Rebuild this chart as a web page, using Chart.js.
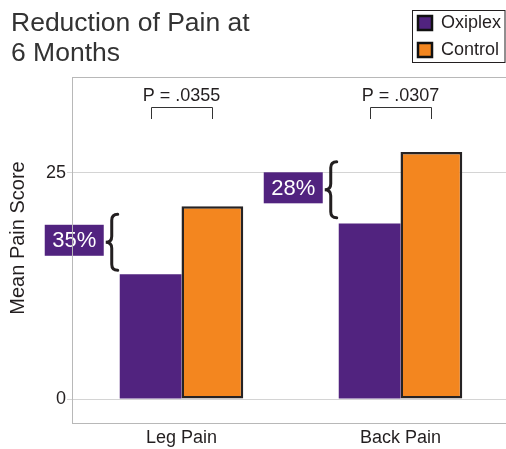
<!DOCTYPE html>
<html><head><meta charset="utf-8">
<script src="https://cdn.jsdelivr.net/npm/chart.js@4.4.1/dist/chart.umd.min.js"></script>
<style>html,body{margin:0;padding:0;background:#fff;overflow:hidden;}#wrap{width:510px;height:449px;position:relative;}</style>
</head><body><div id="wrap"><canvas id="c"></canvas></div>
<script>
const categories = ["Leg Pain", "Back Pain"];
const seriesNames = ["Oxiplex", "Control"];
const oxiplexValues = [13.8, 19.4];
const controlValues = [21.3, 27.3];
const yTickValues = [0, 25];
const pValueLabels = ["P = .0355", "P = .0307"];
const reductionLabels = ["35%", "28%"];
const titleLines = ["Reduction of Pain at", "6 Months"];
const yAxisTitle = "Mean Pain Score";

const FONT = '"Liberation Sans", Arial, Helvetica, sans-serif';
const PURPLE = '#51237f', ORANGE = '#f3861f', DARK = '#262324';
const AXIS = '#b8b8b8';

function brace(ctx, xTip, xArm, y1, y2) {
  const ym = (y1 + y2) / 2, xm = (xTip + xArm) / 2, r = 6;
  ctx.beginPath();
  ctx.moveTo(xArm, y1);
  ctx.quadraticCurveTo(xm, y1, xm, y1 + r);
  ctx.lineTo(xm, ym - r);
  ctx.quadraticCurveTo(xm, ym, xTip, ym);
  ctx.quadraticCurveTo(xm, ym, xm, ym + r);
  ctx.lineTo(xm, y2 - r);
  ctx.quadraticCurveTo(xm, y2, xArm, y2);
  ctx.stroke();
}

const annot = {
  id: 'annot',
  beforeDatasetsDraw(chart) {
    const ctx = chart.ctx;
    const ca = chart.chartArea;
    const m0 = chart.getDatasetMeta(0), m1 = chart.getDatasetMeta(1);
    ctx.save();
    categories.forEach((c, i) => {
      const b0 = m0.data[i], b1 = m1.data[i];
      const left = b0.x - b0.width / 2;
      const mid = (b0.y + b1.y) / 2;
      const bw = 59, bh = 31;
      const bx = left - 16 - bw;
      ctx.fillStyle = PURPLE;
      ctx.fillRect(bx, mid - bh / 2, bw, bh);
      ctx.fillStyle = '#fff';
      ctx.font = '22px ' + FONT;
      ctx.textAlign = 'center';
      ctx.textBaseline = 'middle';
      ctx.fillText(reductionLabels[i], bx + bw / 2, mid + 1);
    });
    // y axis line (shows through the label)
    ctx.strokeStyle = AXIS;
    ctx.lineWidth = 1;
    ctx.beginPath();
    ctx.moveTo(Math.round(ca.left) + 0.5, ca.top);
    ctx.lineTo(Math.round(ca.left) + 0.5, ca.bottom);
    ctx.stroke();
    ctx.restore();
  },
  afterDraw(chart) {
    const ctx = chart.ctx;
    const ca = chart.chartArea;
    const m0 = chart.getDatasetMeta(0), m1 = chart.getDatasetMeta(1);
    ctx.save();
    ctx.strokeStyle = AXIS;
    ctx.lineWidth = 1;
    ctx.beginPath();
    ctx.moveTo(ca.left, ca.top + 0.5);
    ctx.lineTo(ca.right, ca.top + 0.5);
    ctx.stroke();

    categories.forEach((c, i) => {
      const b0 = m0.data[i], b1 = m1.data[i];
      const left = b0.x - b0.width / 2;
      const mid = (b0.y + b1.y) / 2;
      ctx.strokeStyle = '#231f20';
      ctx.lineWidth = 3;
      ctx.lineCap = 'round';
      brace(ctx, left - 14, left - 2, mid + 2 - 28, mid + 2 + 28);
      ctx.lineCap = 'butt';
      ctx.lineWidth = 1;
      ctx.strokeStyle = '#333';
      const yb = ca.top + 30;
      ctx.beginPath();
      ctx.moveTo(Math.round(b0.x) + 0.5, yb + 12);
      ctx.lineTo(Math.round(b0.x) + 0.5, yb + 0.5);
      ctx.lineTo(Math.round(b1.x) + 0.5, yb + 0.5);
      ctx.lineTo(Math.round(b1.x) + 0.5, yb + 12);
      ctx.stroke();
      ctx.fillStyle = '#231f20';
      ctx.font = '18px ' + FONT;
      ctx.textAlign = 'center';
      ctx.textBaseline = 'alphabetic';
      ctx.fillText(pValueLabels[i], (b0.x + b1.x) / 2, ca.top + 24);
    });

    ctx.fillStyle = '#333';
    ctx.font = '26.5px ' + FONT;
    ctx.textAlign = 'left';
    ctx.textBaseline = 'alphabetic';
    titleLines.forEach((t, i) => ctx.fillText(t, 11, 31 + i * 30));

    ctx.save();
    ctx.translate(24, 238);
    ctx.rotate(-Math.PI / 2);
    ctx.font = '20px ' + FONT;
    ctx.fillStyle = '#231f20';
    ctx.textAlign = 'center';
    ctx.textBaseline = 'alphabetic';
    ctx.fillText(yAxisTitle, 0, 0);
    ctx.restore();

    ctx.strokeStyle = '#231f20';
    ctx.lineWidth = 1;
    ctx.strokeRect(412.5, 10.5, 92.5, 52);
    chart.data.datasets.forEach((ds, i) => {
      const sy = 15 + i * 27;
      ctx.fillStyle = ds.backgroundColor;
      ctx.fillRect(417, sy, 16, 16);
      ctx.strokeStyle = '#111';
      ctx.lineWidth = 2.5;
      ctx.strokeRect(418, sy + 1, 14, 14);
      ctx.fillStyle = '#231f20';
      ctx.font = '18px ' + FONT;
      ctx.textAlign = 'left';
      ctx.textBaseline = 'middle';
      ctx.fillText(ds.label, 441, sy + 8);
    });
    ctx.restore();
  }
};

new Chart(document.getElementById('c'), {
  type: 'bar',
  data: {
    labels: categories,
    datasets: [
      { label: seriesNames[0], data: oxiplexValues, backgroundColor: PURPLE, borderWidth: 0,
        categoryPercentage: 0.564, barPercentage: 1 },
      { label: seriesNames[1], data: controlValues, backgroundColor: ORANGE, borderColor: DARK,
        borderWidth: 2.5, borderSkipped: false, categoryPercentage: 0.564, barPercentage: 1 }
    ]
  },
  options: {
    responsive: true,
    maintainAspectRatio: false,
    animation: false,
    devicePixelRatio: 1,
    layout: { padding: { top: 77, left: 0, right: 0, bottom: 0 } },
    plugins: { legend: { display: false }, title: { display: false }, tooltip: { enabled: false } },
    scales: {
      x: {
        grid: { display: false, drawTicks: false },
        border: { display: true, color: AXIS, width: 1 },
        ticks: { color: '#231f20', font: { family: FONT, size: 18 }, padding: 4 },
        afterFit(s) { s.height = 26; }
      },
      y: {
        min: -2.65, max: 35.6,
        afterBuildTicks(s) { s.ticks = yTickValues.map(v => ({ value: v })); },
        grid: { color: '#d4d4d4', tickLength: 5, drawTicks: true },
        border: { display: false },
        ticks: { color: '#231f20', font: { family: FONT, size: 18 }, padding: 1 },
        afterFit(s) { s.width = 72; }
      }
    }
  },
  plugins: [annot]
});
</script></body></html>
